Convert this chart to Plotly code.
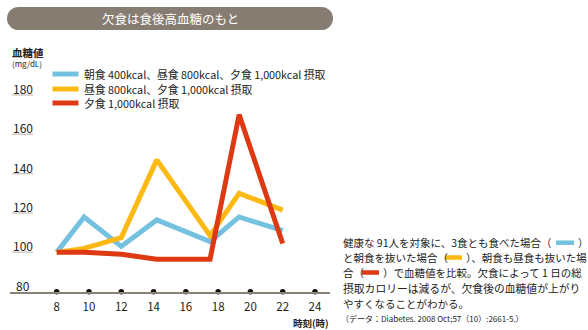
import plotly.graph_objects as go

# ---- data ----
hours = [8, 9.7, 12, 14.2, 17.5, 19.3, 22]
blue_vals = [100, 118, 103, 116.5, 105.5, 118, 111]      # 朝食・昼食・夕食
yellow_vals = [100, 102, 107.5, 147, 108.5, 130, 121.5]  # 昼食・夕食
red_vals = [100, 100, 99, 96.5, 96.5, 170, 104.5]        # 夕食のみ

x_ticks = [8, 10, 12, 14, 16, 18, 20, 22, 24]
x_tick_labels = [str(v) for v in x_ticks]
y_ticks = [80, 100, 120, 140, 160, 180]
y_tick_labels = [str(v) for v in y_ticks]

series_names = [
    "朝食 400kcal、昼食 800kcal、夕食 1,000kcal 摂取",
    "昼食 800kcal、夕食 1,000kcal 摂取",
    "夕食 1,000kcal 摂取",
]
colors = ["#74C2DF", "#FDB913", "#DD3A14"]

W, H = 588, 330
FONT = "Noto Sans CJK JP"


def px(x):
    return x / W


def py(y):
    return 1 - y / H


fig = go.Figure()

for vals, col, name in zip([blue_vals, yellow_vals, red_vals], colors, series_names):
    fig.add_trace(go.Scatter(x=hours, y=vals, mode="lines", name=name,
                             line=dict(color=col, width=5), showlegend=False))

# axis dots
fig.add_trace(go.Scatter(x=x_ticks, y=[y_ticks[0]] * len(x_ticks), mode="markers",
                         marker=dict(color="#111", size=5.5), cliponaxis=False,
                         showlegend=False, hoverinfo="skip"))

shapes = []
annotations = []


def note(text, x, y, size, color="#222", xanchor="left", **kw):
    annotations.append(dict(text=text, x=px(x), y=py(y), xref="paper", yref="paper",
                            xanchor=xanchor, yanchor="middle", showarrow=False,
                            font=dict(family=FONT, size=size, color=color), **kw))


# title bar
bar_col = "#877C71"
shapes.append(dict(type="rect", xref="paper", yref="paper", xsizemode="pixel", ysizemode="pixel",
                   xanchor=0, yanchor=1, x0=18.5, x1=321.5, y0=-7, y1=-30,
                   fillcolor=bar_col, line=dict(width=0), layer="below"))
for cx in (18.5, 321.5):
    shapes.append(dict(type="circle", xref="paper", yref="paper", xsizemode="pixel", ysizemode="pixel",
                       xanchor=0, yanchor=1, x0=cx - 11.5, x1=cx + 11.5, y0=-7, y1=-30,
                       fillcolor=bar_col, line=dict(width=0), layer="below"))
note("欠食は食後高血糖のもと", 170, 18.5, 12.5, color="white", xanchor="center")

# y axis title
note("<b>血糖値</b>", 10, 52.5, 10.5)
note("(mg/dL)", 10, 63.5, 8)

# y tick labels with underlines
for v, lab in zip(y_ticks, y_tick_labels):
    annotations.append(dict(text=lab, x=px(22.5), y=v, xref="paper", yref="y", yshift=6.5,
                            xanchor="center", yanchor="middle", showarrow=False,
                            font=dict(family=FONT, size=12, color="#222")))
    if v != y_ticks[0]:
        shapes.append(dict(type="line", xref="paper", yref="y", x0=px(12), x1=px(33), y0=v, y1=v,
                           line=dict(color="#D3CBC3", width=1.5)))

# legend
legend_rows = [74, 89, 103]
for yy, col, name in zip(legend_rows, colors, series_names):
    shapes.append(dict(type="line", xref="paper", yref="paper", x0=px(52.5), x1=px(78.5),
                       y0=py(yy), y1=py(yy), line=dict(color=col, width=5)))
    note(name, 82, yy, 10.8)

# x axis title
note("<b>時刻(時)</b>", 331, 322.5, 9.5, xanchor="right")


# right text block
def pill(x0, x1, y, col):
    shapes.append(dict(type="line", xref="paper", yref="paper", x0=px(x0), x1=px(x1),
                       y0=py(y), y1=py(y), line=dict(color=col, width=4.5)))


TS = 10.5
# line 1
note("健康な 91人を対象に、3食とも食べた場合（", 341, 242.7, TS)
pill(556, 574, 242.7, colors[0])
note("）", 576, 242.7, TS)
# line 2
note("と朝食を抜いた場合（", 341, 257.5, TS)
pill(445, 462, 257.5, colors[1])
note("）、朝食も昼食も抜いた場", 464, 257.5, TS)
# line 3
note("合（", 341, 272.5, TS)
pill(362, 379, 272.5, colors[2])
note("）で血糖値を比較。欠食によって 1 日の総", 381, 272.5, TS)
# line 4, 5
note("摂取カロリーは減るが、欠食後の血糖値が上がり", 341, 288, 10.8)
note("やすくなることがわかる。", 341, 303, TS)
note("（データ：Diabetes. 2008 Oct;57（10）:2661-5.）", 339, 318.5, 8)

fig.update_layout(
    width=W, height=H, margin=dict(l=0, r=0, t=0, b=0),
    paper_bgcolor="white", plot_bgcolor="white",
    shapes=shapes, annotations=annotations,
    xaxis=dict(domain=[px(10), px(330)], range=[5.107, 24.93], showgrid=False, zeroline=False,
               showline=True, linecolor="#8C8176", linewidth=1.5, ticks="",
               tickvals=x_ticks, ticktext=x_tick_labels, ticklabelstandoff=4,
               tickfont=dict(family=FONT, size=11.5, color="#222")),
    yaxis=dict(domain=[(H - 291.7) / H, (H - 80) / H], range=[80, 187.6], showgrid=False,
               zeroline=False, showline=False, showticklabels=False),
    font=dict(family=FONT),
)

fig.write_html("out.html")
